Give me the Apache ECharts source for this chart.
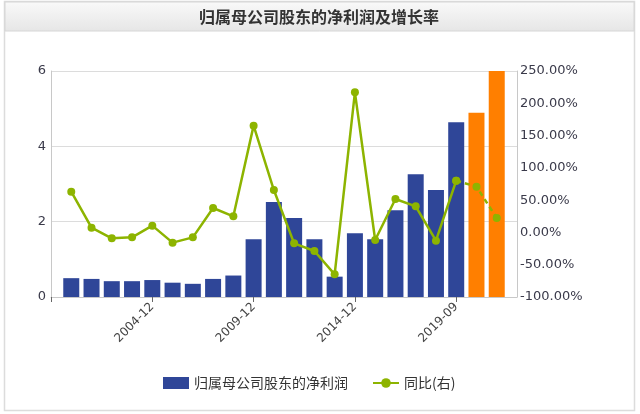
<!DOCTYPE html>
<html>
<head>
<meta charset="utf-8">
<script src="https://cdn.jsdelivr.net/npm/echarts@6/dist/echarts.min.js"></script>
<style>
html,body{margin:0;padding:0;background:#fff;}
#main{width:640px;height:414px;}
</style>
</head>
<body>
<div id="main"></div>
<script>
// Categories (end-of-period dates); first and last entries are padding slots
var categories = ['', '2000-12','2001-12','2002-12','2003-12','2004-12','2005-12','2006-12','2007-12','2008-12','2009-12',
  '2010-12','2011-12','2012-12','2013-12','2014-12','2015-12','2016-12','2017-12','2018-12','2019-09','2020-12','2021-12', ''];
// Net profit attributable to parent shareholders
var profitValues = [null, 0.50,0.48,0.42,0.42,0.45,0.38,0.35,0.48,0.57,1.53,
  2.52,2.10,1.53,0.54,1.69,1.53,2.30,3.26,2.84,4.64,4.89,6.00, null];
// Forecast flags (orange bars)
var forecastFlags = [false, false,false,false,false,false,false,false,false,false,false,
  false,false,false,false,false,false,false,false,false,false,true,true, false];
// YoY growth (%)
var growthValues = [null, 63.1,7.4,-9.2,-7.6,10.5,-15.8,-7.6,37.8,24.9,165.4,
  65.7,-16.9,-28.8,-64.9,217.0,-11.7,51.8,40.4,-12.8,80.2,70.9,22.3, null];
var leftTicks = [0, 2, 4, 6];
var rightTicks = [-100, -50, 0, 50, 100, 150, 200, 250];

var BLUE = '#2f4698', ORANGE = '#ff7f00', GREEN = '#8db400';
var firstForecastLine = 20; // dashed segment starts here

var barData = profitValues.map(function (v, i) {
  if (v === null) return null;
  return { value: v, itemStyle: { color: forecastFlags[i] ? ORANGE : BLUE } };
});
var solidLine = growthValues.map(function (v, i) { return i <= firstForecastLine ? v : null; });
var dashLine = growthValues.map(function (v, i) { return i >= firstForecastLine ? v : null; });

var chart = echarts.init(document.getElementById('main'), null, { renderer: 'canvas' });
var option = {
  animation: false,
  backgroundColor: '#fff',
  graphic: [
    { type: 'rect', shape: { x: 4.5, y: 1.5, width: 630, height: 409 }, style: { fill: '#fff', stroke: '#dcdcdc', lineWidth: 1.5 }, z: -10 },
    { type: 'rect', shape: { x: 5, y: 2, width: 629, height: 29 },
      style: { fill: new echarts.graphic.LinearGradient(0, 0, 0, 1, [{ offset: 0, color: '#f9f9f9' }, { offset: 1, color: '#e6e6e6' }]), stroke: '#d6d6d6', lineWidth: 1 }, z: -9 },
    { type: 'text', x: 319, y: 17, style: { text: '归属母公司股东的净利润及增长率', fill: '#333', font: 'bold 16px "Noto Sans CJK SC", sans-serif', align: 'center', verticalAlign: 'middle' } }
  ],
  legend: {
    left: 158, top: 371,
    itemWidth: 26, itemHeight: 12, itemGap: 24,
    textStyle: { color: '#333', fontSize: 14, fontFamily: '"Noto Sans CJK SC", sans-serif' },
    data: [
      { name: '归属母公司股东的净利润', icon: 'rect', itemStyle: { color: BLUE } },
      { name: '同比(右)' }
    ]
  },
  grid: { left: 51, right: 123, top: 71, bottom: 117, containLabel: false },
  xAxis: {
    type: 'category',
    data: categories,
    boundaryGap: false,
    axisLine: { lineStyle: { color: '#c8c8c8', width: 1 } },
    axisTick: { interval: function (i) { return i === 0 || (i % 5 === 0 && i <= 20); }, length: 5, lineStyle: { color: '#666' } },
    axisLabel: { interval: function (i) { return i > 0 && i % 5 === 0 && i <= 20; }, rotate: 45, color: '#444', fontSize: 12, fontFamily: 'DejaVu Sans', margin: 8 },
    splitLine: { show: false }
  },
  yAxis: [
    {
      type: 'value', min: leftTicks[0], max: leftTicks[leftTicks.length - 1], interval: 2,
      axisLine: { show: true, lineStyle: { color: '#c8c8c8' } },
      axisTick: { show: false },
      axisLabel: { color: '#3a3a4a', fontSize: 13, fontFamily: 'DejaVu Sans', margin: 5 },
      splitLine: { show: true, lineStyle: { color: '#dcdcdc', width: 1 } }
    },
    {
      type: 'value', min: rightTicks[0], max: rightTicks[rightTicks.length - 1], interval: 50,
      position: 'right',
      axisLine: { show: true, lineStyle: { color: '#c8c8c8' } },
      axisTick: { show: false },
      axisLabel: { color: '#3a3a4a', fontSize: 13, fontFamily: 'DejaVu Sans', margin: 3, formatter: function (v) { return v.toFixed(2) + '%'; } },
      splitLine: { show: false }
    }
  ],
  series: [
    { name: '归属母公司股东的净利润', type: 'bar', data: barData, barWidth: 16, itemStyle: { color: BLUE }, yAxisIndex: 0 },
    { name: '同比(右)', type: 'line', yAxisIndex: 1, data: solidLine, symbol: 'circle', symbolSize: 8,
      itemStyle: { color: GREEN }, lineStyle: { color: GREEN, width: 2.5 }, connectNulls: false, z: 5 },
    { name: '同比(右)', type: 'line', yAxisIndex: 1, data: dashLine, symbol: 'circle', symbolSize: 8,
      itemStyle: { color: GREEN }, lineStyle: { color: GREEN, width: 2.5, type: [5, 4] }, connectNulls: false, z: 5 }
  ]
};
chart.setOption(option);
</script>
</body>
</html>
